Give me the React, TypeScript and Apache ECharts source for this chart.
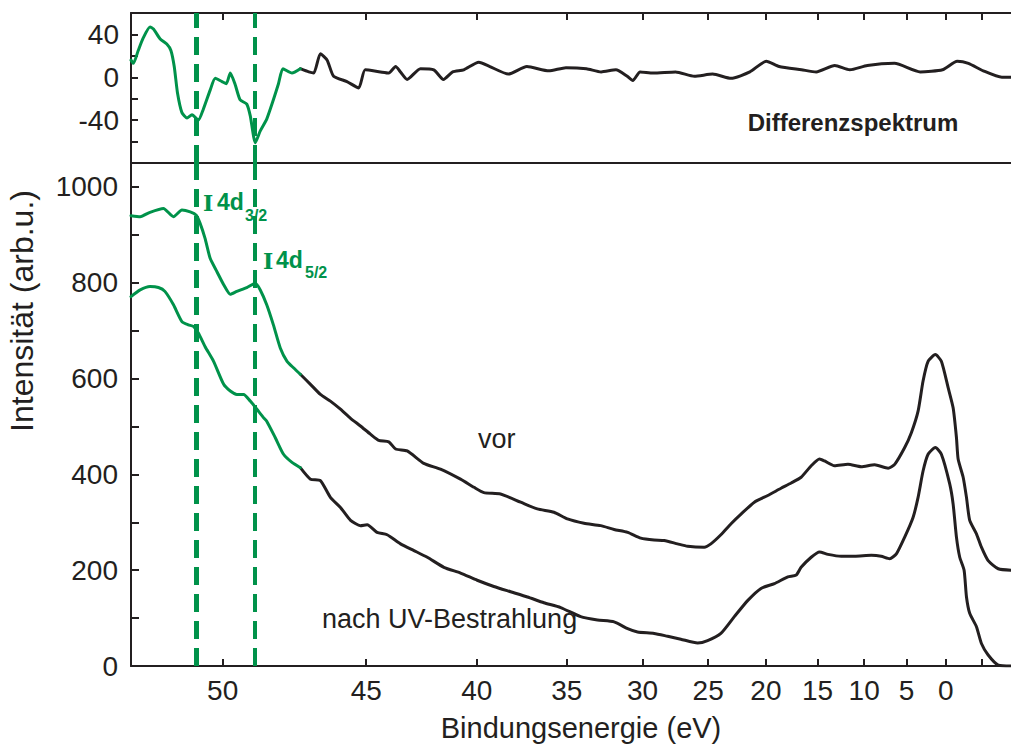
import React, { useEffect, useRef } from "react";
import * as echarts from "echarts";

// Energy scale: positions follow ln(HV - E_bind)
const HV = 64.5;
const E_LEFT = 52.5;
const E_RIGHT = -9.3;
const GREEN_FROM = 47.48; // I 4d region drawn in green

// Spectrum before UV exposure
const vorE = [52.5, 52.27, 52.02, 51.67, 51.4, 51.17, 50.94, 50.77, 50.66, 50.52, 50.37, 50.17, 49.97, 49.77, 49.57, 49.26, 48.99, 48.83, 48.62, 48.4, 48.17, 47.94, 47.71, 47.48, 47.12, 46.76, 46.39, 46.01, 45.62, 45.23, 44.83, 44.49, 44.07, 43.78, 43.28, 42.54, 41.77, 40.81, 40.14, 39.64, 38.77, 37.68, 36.74, 35.77, 34.96, 33.93, 32.86, 31.97, 31.05, 30.13, 29.17, 28.43, 27.42, 26.64, 25.32, 24.78, 23.95, 23.09, 22.23, 21.05, 19.83, 18.59, 17.62, 16.65, 15.64, 14.8, 14.28, 13.23, 11.79, 10.33, 8.81, 7.24, 6.45, 5.24, 4.42, 3.58, 2.95, 2.31, 1.37, 0.58, -0.32, -0.99, -1.44, -1.67, -2.36, -2.82, -3.27, -4.22, -4.93, -5.9, -7.38, -9.3];
const vorI = [940, 938, 947, 955, 938, 952, 948, 941, 924, 893, 851, 823, 796, 776, 782, 790, 799, 785, 754, 712, 664, 636, 622, 609, 588, 567, 553, 536, 517, 501, 484, 471, 468, 453, 449, 423, 411, 390, 373, 362, 359, 342, 328, 321, 307, 298, 293, 285, 279, 267, 263, 262, 255, 250, 248, 255, 274, 297, 317, 342, 356, 371, 382, 394, 418, 432, 428, 418, 421, 416, 420, 413, 421, 456, 487, 532, 595, 636, 650, 636, 581, 539, 477, 432, 394, 352, 304, 276, 248, 220, 203, 200];

// Spectrum after UV exposure
const nachE = [52.5, 52.27, 52.02, 51.8, 51.63, 51.4, 51.17, 50.99, 50.85, 50.71, 50.52, 50.27, 49.97, 49.77, 49.57, 49.36, 49.15, 48.94, 48.72, 48.62, 48.34, 48.06, 47.77, 47.48, 47.12, 46.76, 46.39, 46.01, 45.62, 45.23, 44.96, 44.56, 44.14, 43.57, 42.98, 42.38, 41.61, 40.81, 39.98, 39.12, 38.23, 37.3, 36.36, 35.37, 34.14, 33.07, 31.97, 31.05, 30.36, 29.17, 28.17, 27.17, 25.85, 25.05, 23.95, 22.81, 21.63, 20.45, 19.21, 17.94, 17.13, 16.65, 15.64, 14.8, 13.92, 12.52, 11.06, 9.18, 8.04, 7.05, 6.25, 5.24, 4.21, 3.58, 2.95, 2.31, 1.37, 0.58, -0.53, -0.99, -1.44, -1.89, -2.49, -2.82, -3.27, -4.22, -4.93, -5.9, -7.38, -9.3];
const nachI = [771, 785, 792, 790, 782, 754, 719, 712, 709, 695, 667, 636, 588, 574, 567, 567, 553, 536, 518, 511, 477, 442, 425, 414, 390, 387, 352, 331, 304, 293, 295, 279, 274, 255, 241, 227, 206, 194, 179, 166, 155, 144, 132, 122, 103, 96, 92, 78, 71, 68, 62, 56, 48, 53, 68, 103, 137, 162, 172, 186, 190, 206, 227, 238, 233, 229, 229, 231, 229, 224, 234, 269, 310, 352, 407, 442, 456, 442, 380, 338, 269, 227, 200, 144, 110, 82, 47, 23, 2, 0];

// Difference spectrum
const diffE = [52.5, 52.44, 52.32, 52.19, 52.02, 51.93, 51.76, 51.58, 51.47, 51.38, 51.29, 51.17, 51.03, 50.89, 50.71, 50.57, 50.37, 50.22, 50.02, 49.89, 49.77, 49.62, 49.47, 49.26, 49.15, 48.99, 48.83, 48.62, 48.4, 48.23, 48.08, 47.77, 47.48, 47.18, 47.0, 46.76, 46.51, 46.27, 45.76, 45.3, 45.04, 44.42, 44.07, 43.78, 43.57, 43.28, 42.69, 42.08, 41.63, 41.19, 40.65, 39.9, 39.33, 38.35, 37.33, 36.07, 35.05, 33.78, 32.83, 31.85, 31.08, 30.69, 30.18, 29.24, 27.57, 26.11, 24.63, 23.09, 21.45, 19.97, 18.77, 16.61, 15.13, 13.2, 11.59, 9.64, 6.48, 3.31, 0.43, -1.55, -3.09, -5.2, -7.92, -9.3];
const diffV = [16, 13, 25, 37, 47, 45, 36, 31, 25, 10, -15, -33, -38, -35, -40, -30, -12, -1, -4, -6, 4, -7, -21, -25, -36, -61, -50, -39, -21, -6, 8, 4, 8, 5, 4, 22, 16, 1, -4, -10, 7, 5, 4, 10, 5, -2, 8, 7, -2, 5, 7, 14, 10, 3, 10, 6, 9, 8, 5, 7, 1, -3, 5, 4, 5, 1, 3, -1, 5, 15, 10, 7, 5, 11, 7, 11, 13, 5, 7, 15, 13, 6, 0, 0];

// Axis ticks
const energyLabels = [50, 45, 40, 35, 30, 25, 20, 15, 10, 5, 0];
const energyTicks = [50, 45, 40, 35, 30, 25, 20, 15, 10, 5, 0, -5];
const intensityLabels = [0, 200, 400, 600, 800, 1000];
const intensityTicks = [100, 200, 300, 400, 500, 600, 700, 800, 900, 1000];
const diffLabels = [-40, 0, 40];
const diffTicks = [-60, -40, -20, 0, 20, 40];

// I 4d core levels
const peakE = [50.7, 49.0];

const INK = "#231f20";
const GREEN = "#00924a";
const FONT = '"Liberation Sans", Arial, sans-serif';

const u = (e: number) => Math.log(HV - e);

function toPoints(es: number[], vs: number[], green: boolean) {
  const pts: number[][] = [];
  es.forEach((e, i) => {
    if (green ? e >= GREEN_FROM : e <= GREEN_FROM) pts.push([u(e), vs[i]]);
  });
  return pts;
}

function lineSeries(name: string, xi: number, data: number[][], color: string, extra: any = {}) {
  return {
    name,
    type: "line",
    xAxisIndex: xi,
    yAxisIndex: xi,
    data,
    symbol: "none",
    showSymbol: false,
    smooth: 0.2,
    lineStyle: { color, width: 3, join: "round", cap: "round" },
    z: 3,
    ...extra,
  };
}

const peakLines = {
  silent: true,
  symbol: ["none", "none"],
  label: { show: false },
  lineStyle: { color: GREEN, type: [18, 9], width: 4 },
  data: [
    { xAxis: u(peakE[0]), lineStyle: { width: 5 } },
    { xAxis: u(peakE[1]), lineStyle: { width: 4 } },
  ],
};

function energyAxis(gridIndex: number, position: string, labels: boolean, ticks: boolean) {
  return {
    type: "value",
    gridIndex,
    position,
    min: u(E_LEFT),
    max: u(E_RIGHT),
    axisLine: { show: true, onZero: false, lineStyle: { color: INK, width: 2 } },
    axisTick: {
      show: ticks,
      inside: true,
      length: 7,
      customValues: energyTicks.map(u),
      lineStyle: { color: INK, width: 2 },
    },
    axisLabel: {
      show: labels,
      margin: 10,
      color: INK,
      fontSize: 28,
      fontFamily: FONT,
      customValues: energyLabels.map(u),
      formatter: (v: number) => String(Math.round(HV - Math.exp(v)) + 0),
    },
    splitLine: { show: false },
  };
}

const plainNumber = (v: number) => String(v);

export default function App() {
  const ref = useRef<HTMLDivElement>(null);

  useEffect(() => {
    if (!ref.current) return;
    const chart = echarts.init(ref.current, null, { renderer: "svg" });

    const option: any = {
      animation: false,
      backgroundColor: "#ffffff",
      grid: [
        { left: 131, right: 0, top: 13, height: 150 },
        { left: 131, right: 0, top: 163, height: 503 },
      ],
      xAxis: [
        energyAxis(0, "top", false, true),
        energyAxis(1, "bottom", true, true),
        energyAxis(1, "top", false, false),
      ],
      yAxis: [
        {
          type: "value",
          gridIndex: 0,
          min: -80,
          max: 60,
          axisLine: { show: true, onZero: false, lineStyle: { color: INK, width: 2 } },
          axisTick: { inside: true, length: 7, customValues: diffTicks, lineStyle: { color: INK, width: 2 } },
          axisLabel: { color: INK, fontSize: 28, fontFamily: FONT, margin: 12, customValues: diffLabels, formatter: plainNumber },
          splitLine: { show: false },
        },
        {
          type: "value",
          gridIndex: 1,
          min: 0,
          max: 1050,
          axisLine: { show: true, onZero: false, lineStyle: { color: INK, width: 2 } },
          axisTick: { inside: true, length: 8, customValues: intensityTicks, lineStyle: { color: INK, width: 2 } },
          axisLabel: { color: INK, fontSize: 28, fontFamily: FONT, margin: 13, customValues: intensityLabels, formatter: plainNumber },
          splitLine: { show: false },
        },
      ],
      series: [
        lineSeries("Differenz", 0, toPoints(diffE, diffV, false), INK),
        lineSeries("Differenz I 4d", 0, toPoints(diffE, diffV, true), GREEN, { markLine: peakLines }),
        lineSeries("vor", 1, toPoints(vorE, vorI, false), INK),
        lineSeries("vor I 4d", 1, toPoints(vorE, vorI, true), GREEN, { markLine: peakLines }),
        lineSeries("nach UV-Bestrahlung", 1, toPoints(nachE, nachI, false), INK),
        lineSeries("nach UV-Bestrahlung I 4d", 1, toPoints(nachE, nachI, true), GREEN),
      ],
      graphic: [
        {
          type: "text",
          x: 22,
          y: 311,
          rotation: Math.PI / 2,
          style: { text: "Intensität (arb.u.)", font: `32px ${FONT}`, fill: INK, align: "center", verticalAlign: "middle" },
        },
        {
          type: "text",
          x: 581,
          y: 728,
          style: { text: "Bindungsenergie (eV)", font: `29px ${FONT}`, fill: INK, align: "center", verticalAlign: "middle" },
        },
        {
          type: "text",
          x: 478,
          y: 439,
          style: { text: "vor", font: `27px ${FONT}`, fill: INK, align: "left", verticalAlign: "middle" },
        },
        {
          type: "text",
          x: 322,
          y: 619,
          style: { text: "nach UV-Bestrahlung", font: `27px ${FONT}`, fill: INK, align: "left", verticalAlign: "middle" },
        },
        {
          type: "text",
          x: 853,
          y: 122,
          style: { text: "Differenzspektrum", font: `bold 24px ${FONT}`, fill: INK, align: "center", verticalAlign: "middle" },
        },
        // I 4d3/2
        { type: "text", x: 203, y: 202.6, style: { text: "I", font: 'bold 22px "DejaVu Serif", serif', fill: GREEN, verticalAlign: "middle" } },
        { type: "text", x: 217, y: 202.3, style: { text: "4d", font: `bold 23px ${FONT}`, fill: GREEN, verticalAlign: "middle" } },
        { type: "text", x: 245, y: 215.4, style: { text: "3/2", font: `bold 16px ${FONT}`, fill: GREEN, verticalAlign: "middle" } },
        // I 4d5/2
        { type: "text", x: 263, y: 260.6, style: { text: "I", font: 'bold 22px "DejaVu Serif", serif', fill: GREEN, verticalAlign: "middle" } },
        { type: "text", x: 276, y: 260.3, style: { text: "4d", font: `bold 23px ${FONT}`, fill: GREEN, verticalAlign: "middle" } },
        { type: "text", x: 305, y: 272.4, style: { text: "5/2", font: `bold 16px ${FONT}`, fill: GREEN, verticalAlign: "middle" } },
      ],
    };

    chart.setOption(option);
    return () => chart.dispose();
  }, []);

  return (
    <div
      ref={ref}
      style={{ position: "fixed", left: 0, top: 0, width: 1011, height: 744, background: "#fff" }}
    />
  );
}
